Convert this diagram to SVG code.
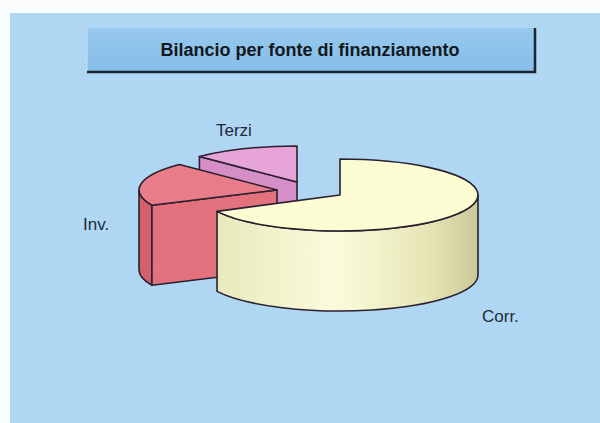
<svg xmlns="http://www.w3.org/2000/svg" width="600" height="423" viewBox="0 0 600 423">
  <style>
    .edge { stroke: #2a2030; stroke-width: 1.6; stroke-linejoin: round; }
    .label { font-family: "Liberation Sans", Arial, sans-serif; font-size: 17px; fill: #1e2a38; }
    .title { font-family: "Liberation Sans", Arial, sans-serif; font-size: 18px; font-weight: bold; fill: #121820; }
  </style>
  <defs>
    <linearGradient id="corrSide" x1="217" y1="0" x2="478" y2="0" gradientUnits="userSpaceOnUse">
      <stop offset="0" stop-color="#e9e9bd"/>
      <stop offset="0.45" stop-color="#fbfbdc"/>
      <stop offset="0.8" stop-color="#e6e6b6"/>
      <stop offset="1" stop-color="#c9c99a"/>
    </linearGradient>
    <linearGradient id="titleFill" x1="0" y1="28" x2="0" y2="72" gradientUnits="userSpaceOnUse">
      <stop offset="0" stop-color="#98c9ee"/>
      <stop offset="1" stop-color="#86bde8"/>
    </linearGradient>
  </defs>

  <g id="background">
    <rect x="0" y="0" width="600" height="423" fill="#fafcfd"/>
    <rect x="10" y="13" width="590" height="410" fill="#afd6f2"/>
  </g>

  <g id="title">
    <rect x="87" y="28" width="448" height="44" fill="url(#titleFill)"/>
    <polyline points="87,28 87,72" fill="none" stroke="#c4e0f4" stroke-width="1"/>
    <polyline points="87,72 535,72 535,28" fill="none" stroke="#1c2530" stroke-width="2.5"/>
    <text class="title" x="310" y="56" text-anchor="middle">Bilancio per fonte di finanziamento</text>
  </g>

  <g id="slice-terzi">
    <path class="edge" d="M199.42,156.54 L297,182 L297,262 L199.42,236.54 Z" fill="#d68ec6"/>
    <path class="edge" d="M297,182 L199.42,156.54 A138 36 0 0 1 297,146 Z" fill="#e7a4d8"/>
  </g>

  <g id="slice-inv">
    <path class="edge" d="M139,190 A138 36 0 0 0 151.93,205.21 L151.93,285.21 A138 36 0 0 1 139,270 Z" fill="#d2606e"/>
    <path class="edge" d="M151.93,205.21 L277,190 L277,270 L151.93,285.21 Z" fill="#e4717e"/>
    <path class="edge" d="M277,190 L151.93,205.21 A138 36 0 0 1 179.42,164.54 Z" fill="#e87d89"/>
  </g>

  <g id="slice-corr">
    <path class="edge" d="M478,195 A138 36 0 0 1 217.04,211.34 L217.04,291.34 A138 36 0 0 0 478,275 Z" fill="url(#corrSide)"/>
    <path class="edge" d="M340,195 L340,159 A138 36 0 1 1 217.04,211.34 Z" fill="#fcfcd2"/>
  </g>

  <g id="labels">
    <text class="label" x="216" y="136">Terzi</text>
    <text class="label" x="83" y="230">Inv.</text>
    <text class="label" x="482" y="322">Corr.</text>
  </g>
</svg>
